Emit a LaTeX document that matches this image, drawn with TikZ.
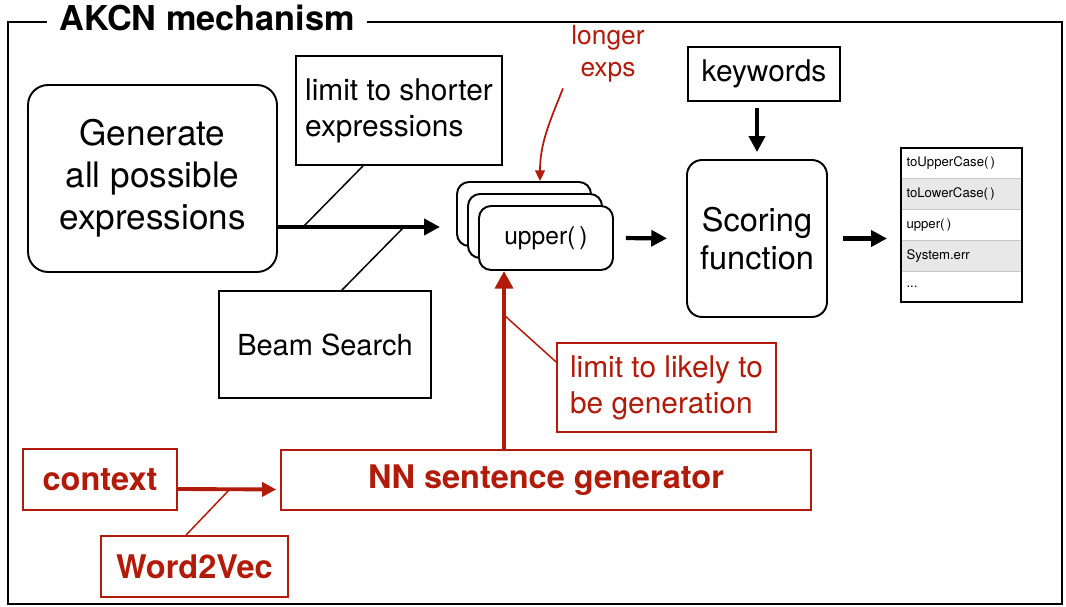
\documentclass[tikz,border=0pt]{standalone}
\usepackage{fontspec}
\setmainfont{TeX Gyre Heros}
\usetikzlibrary{positioning, arrows.meta}
\definecolor{akred}{RGB}{178,26,10}
\definecolor{rowgray}{RGB}{232,232,232}

\begin{document}
\begin{tikzpicture}[
    x=0.02cm, y=-0.02cm,
    box/.style={draw, line width=1.1pt, rectangle, align=center, inner sep=0pt, fill=white},
    rbox/.style={box, rounded corners=0.4cm},
    card/.style={draw, line width=1.1pt, rounded corners=0.24cm, fill=white, minimum width=2.68cm, minimum height=1.28cm, inner sep=0pt, font=\fontsize{14}{17}\selectfont},
    redbox/.style={draw=akred, line width=1pt, rectangle, text=akred, align=center, inner sep=0pt, fill=white},
    row/.style={draw=black!22, line width=0.6pt, fill=white, minimum width=2.42cm, minimum height=0.616cm, inner sep=0pt, outer sep=0pt, text width=2.2cm, align=left, font=\fontsize{7.5}{9}\selectfont},
    grayrow/.style={row, fill=rowgray},
    arrow/.style={-{Triangle[length=9pt,width=9pt]}, line width=2.4pt},
    redarrow/.style={-{Triangle[length=10pt,width=10pt]}, line width=2.6pt, draw=akred, fill=akred},
    tap/.style={line width=0.85pt},
    redtap/.style={line width=0.85pt, draw=akred}
]
\useasboundingbox (0,0) rectangle (1066,607);

% Frame and title
\node[draw, line width=1.1pt, minimum width=21.08cm, minimum height=11.64cm, inner sep=0pt] (frame) at (535,313) {};
\node[fill=white, inner xsep=7pt, inner ysep=1pt, font=\bfseries\fontsize{19.5}{23}\selectfont] (title) at ([xshift=4cm, yshift=0.06cm]frame.north west) {AKCN mechanism};

% Generation (left)
\node[rbox, minimum width=4.98cm, minimum height=3.74cm, font=\fontsize{20}{24}\selectfont] (gen) at (152.5,178.5) {Generate\\all possible\\expressions};
\node[box, align=left, minimum width=4.12cm, minimum height=2.18cm, font=\fontsize{17}{20.4}\selectfont] (shorter) at (399,110.5) {limit to shorter\\expressions};
\node[box, minimum width=4.24cm, minimum height=2.14cm, font=\fontsize{16.5}{20}\selectfont] (beam) at (325,344.5) {Beam Search};

% Candidate stack
\node[card] (back) at (524,214) {};
\node[card] (mid) at (535,226) {};
\node[card] (front) at (546,238) {upper(\,)};
\node[text=akred, align=center, font=\fontsize{15}{18}\selectfont] (longer) at (608,54) {longer\\exps};

% Scoring (right)
\node[rbox, rounded corners=0.3cm, minimum width=2.8cm, minimum height=3.14cm, font=\fontsize{18.5}{21.5}\selectfont] (score) at (757,238.5) {Scoring\\function};
\node[box, minimum width=3.04cm, minimum height=1.08cm, font=\fontsize{17}{20}\selectfont] (keys) at (764,74) {keywords};

% Ranked list
\node[row] (row1) at (961.5,163.4) {toUpperCase(\,)};
\node[grayrow, below=0pt of row1] (row2) {toLowerCase(\,)};
\node[row, below=0pt of row2] (row3) {upper(\,)};
\node[grayrow, below=0pt of row3] (row4) {System.err};
\node[row, below=0pt of row4] (row5) {...};
\draw[line width=1.1pt] (row1.north west) rectangle (row5.south east);

% Neural part (bottom, red)
\node[redbox, minimum width=10.6cm, minimum height=1.2cm, font=\bfseries\fontsize{18.5}{22}\selectfont] (NN) at (546,480) {NN sentence generator};
\node[redbox, minimum width=3.08cm, minimum height=1.22cm, font=\bfseries\fontsize{18.5}{22}\selectfont] (ctx) at (100,479.5) {context};
\node[redbox, minimum width=3.74cm, minimum height=1.22cm, font=\bfseries\fontsize{18.5}{22}\selectfont] (w2v) at (194.5,566.5) {Word2Vec};
\node[redbox, align=left, minimum width=4.38cm, minimum height=1.78cm, font=\fontsize{17}{20.4}\selectfont] (likely) at (666.5,387.5) {limit to likely to\\be generation};

% Points on the arrows
\coordinate (mainin) at (440,227);
\coordinate (tapA) at (303,227);
\coordinate (tapB) at (404,227);
\coordinate (tapC) at (504,315);
\coordinate (tapD) at (230,489);

% Edges
\draw[arrow] (gen.east |- mainin) -- (mainin);
\draw[tap] ([xshift=-0.72cm]shorter.south) -- (tapA);
\draw[tap] ([xshift=0.34cm]beam.north) -- (tapB);

\draw[arrow, shorten <=0.24cm, shorten >=0.38cm] (front.east) -- (score.west);
\draw[arrow, shorten <=0.12cm, shorten >=0.14cm] (score.north |- keys.south) -- (score.north);
\draw[arrow, shorten <=0.3cm, shorten >=0.28cm] (score.east) -- (score.east -| row3.west);

\draw[akred, line width=1pt, -{Triangle[length=6pt,width=5.5pt]}] ([xshift=-0.9cm]longer.south) to[out=-112, in=90] ([xshift=0.32cm]back.north);

\draw[redarrow] ([xshift=-0.84cm]NN.north) -- ([xshift=-0.84cm]front.south);
\draw[redtap] ([yshift=0.51cm]likely.west) -- (tapC);

\draw[redarrow, line width=2.2pt, -{Triangle[length=8pt,width=8pt]}, shorten >=0.08cm] ([yshift=-0.19cm]ctx.east) -- ([yshift=-0.19cm]NN.west);
\draw[redtap] ([xshift=-0.17cm]w2v.north) -- (tapD);

\end{tikzpicture}
\end{document}
